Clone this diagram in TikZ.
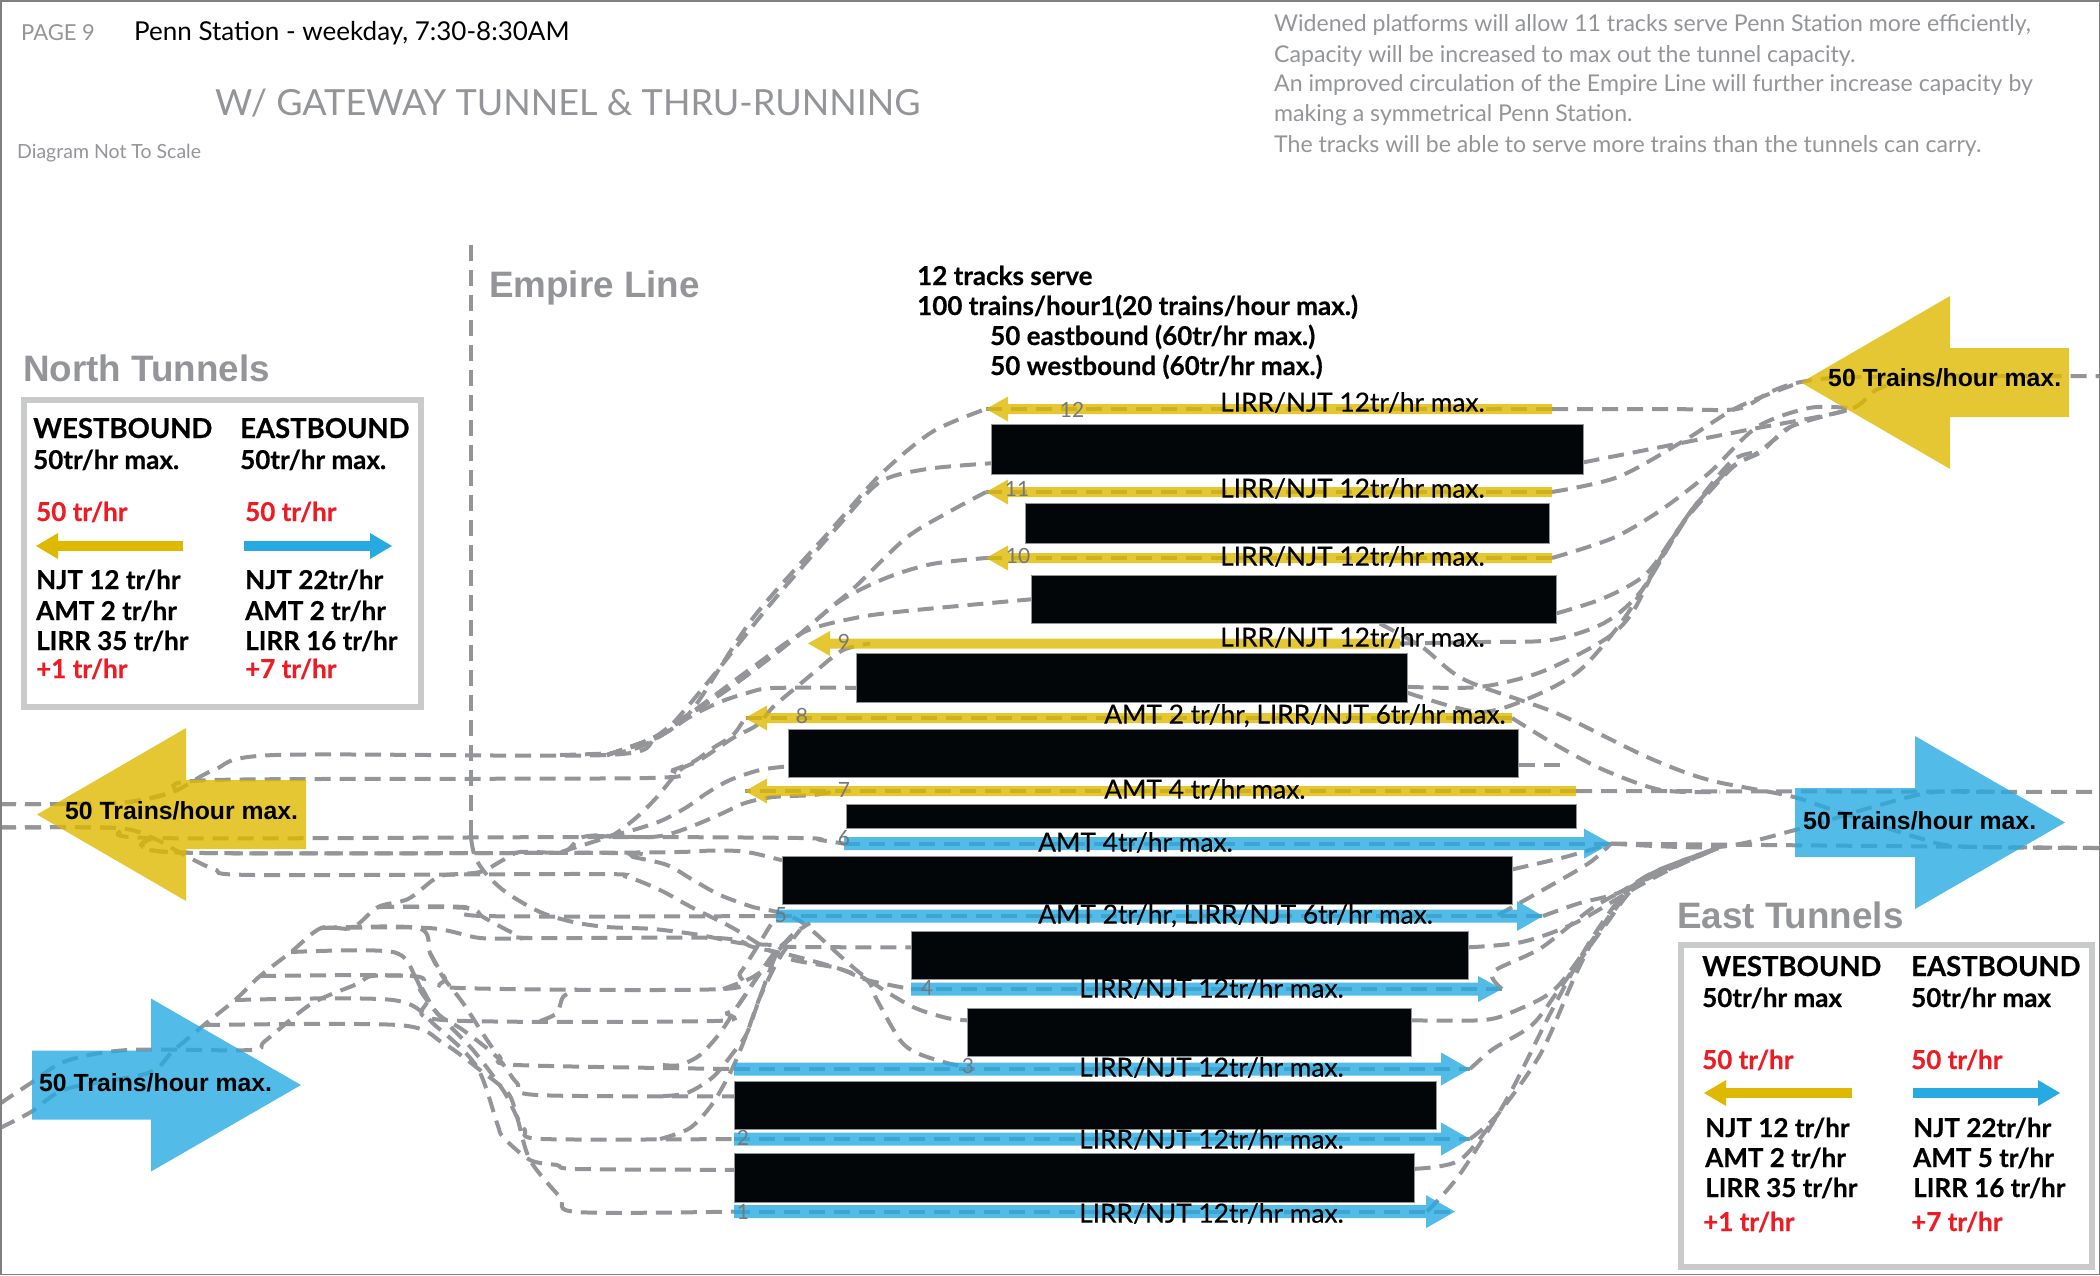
\documentclass[tikz,border=0pt]{standalone}
\usepackage{fontspec}
\usetikzlibrary{arrows.meta}
\setmainfont{Lato}
\newfontfamily\gillmed[FakeBold=0.4]{Lato}
\newfontfamily\gillb[FakeBold=0.5]{Lato Bold}
\newfontfamily\arialb{Liberation Sans Bold}
\definecolor{routegray}{HTML}{939598}
\definecolor{framegray}{HTML}{C9CACC}
\definecolor{keygold}{HTML}{DFB900}
\definecolor{keyblue}{HTML}{27AAE1}
\definecolor{keyred}{HTML}{ED1C24}
\definecolor{platblack}{HTML}{030608}
\newcommand{\sized}[1]{\fontsize{#1}{#1}\selectfont}
\pgfdeclarelayer{routes}
\pgfdeclarelayer{arrows}
\pgfsetlayers{routes,arrows,main}
\tikzset{
  route/.style={draw=routegray, line width=4pt, dash pattern=on 16pt off 9pt},
  plat/.style={rectangle, fill=platblack, draw=routegray, line width=0.6pt, inner sep=0, anchor=north west},
  keybox/.style={draw=framegray, line width=6pt},
  hdr/.style={inner sep=0, anchor=west, text height=1.5em, text depth=0pt},
  tracklabel/.style={hdr, text height=1.32em, font=\gillmed\sized{26.3}},
  keytext/.style={hdr, text height=1.6em, font=\gillb\sized{26}},
  keyhead/.style={hdr, text height=1.6em, font=\gillb\sized{27.5}},
  keyred/.style={keytext, text=keyred},
  tunnel/.style={hdr, text height=1.72em, font=\arialb\sized{36.8}, text=routegray},
  bigtext/.style={inner sep=0, anchor=west, font=\arialb\sized{24.8}},
  tracknum/.style={inner sep=0, font=\sized{21}, text=routegray!80!black},
  bigwest/.style={draw=keygold, line width=69pt, -{Triangle[width=173pt,length=149pt,line width=0pt]}},
  bigeast/.style={draw=keyblue, line width=69pt, -{Triangle[width=173pt,length=150pt,line width=0pt]}},
  keyarrow/.style={line width=10.5pt, -{Triangle[width=26pt,length=22pt,line width=0pt]}}
}
\begin{document}
\begin{tikzpicture}[x=1pt, y=-1pt]
  \useasboundingbox (0,0) rectangle (2100,1275);
  \draw[draw=gray, line width=1.5pt] (0.75,0.75) rectangle (2099.25,1274.25);

  % tunnel ends
  \coordinate (nea) at (2100,376);
  \coordinate (sea) at (2100,792);
  \coordinate (seb) at (2100,848);
  \coordinate (nwa) at (0,804);
  \coordinate (nwb) at (0,827.5);
  \coordinate (swa) at (0,1103.6);
  \coordinate (swb) at (0,1128);
  \coordinate (empiretop) at (471,245);

  % track ends
  \foreach \trk/\yy/\xw/\xe in {12/409/986/1552, 11/492/986/1552, 10/558/986/1552, 9/643.5/808/1400, 8/718/745/1512, 7/791/745/1576, 6/843.6/844/1611, 5/916/776/1543, 4/989/911/1502, 3/1069/734/1470, 2/1139/734/1470, 1/1211.6/734/1455} {
    \coordinate (t\trk w) at (\xw,\yy);
    \coordinate (t\trk e) at (\xe,\yy);
  }

  % platforms
  \node[plat, minimum width=592pt, minimum height=50pt] (p12) at (991,424) {};
  \node[plat, minimum width=524pt, minimum height=40pt] (p11) at (1025,503) {};
  \node[plat, minimum width=525pt, minimum height=48pt] (p10) at (1031,575) {};
  \node[plat, minimum width=551pt, minimum height=49pt] (p9) at (856,653) {};
  \node[plat, minimum width=730pt, minimum height=48pt] (p8) at (788,729) {};
  \node[plat, minimum width=730pt, minimum height=24pt] (p7) at (846,804) {};
  \node[plat, minimum width=730pt, minimum height=48pt] (p6) at (782,856) {};
  \node[plat, minimum width=557pt, minimum height=48pt] (p5) at (911,931) {};
  \node[plat, minimum width=444pt, minimum height=48pt] (p4) at (967,1008) {};
  \node[plat, minimum width=702pt, minimum height=48pt] (p3) at (734,1081) {};
  \node[plat, minimum width=680pt, minimum height=49pt] (p2) at (734,1153) {};

  \begin{pgfonlayer}{routes}
  % dashes along the tracks
  \foreach \trk in {12,11,10,8,7} {
    \draw[route] (t\trk e) -- (t\trk w);
  }
  \foreach \trk in {6,5,4,3,2,1} {
    \draw[route] (t\trk w) -- (t\trk e);
  }
  \draw[route] (empiretop) -- (471,838);

  % east side, westbound
  \draw[route] plot[smooth] coordinates {(t12e) (1670,409) (1737,409) (1770,392) (1801,382) (1860,377) (nea)};
  \draw[route] plot[smooth] coordinates {(t11e) (1618,477) (1685,440) (1738,407) (1801,382)};
  \draw[route] plot[smooth] coordinates {([yshift=-13pt]p12.east) (1661,447) (1747,430) (1848,410) (1876,390) (1915,378) (2000,376)};
  \draw[route] plot[smooth] coordinates {(t10e) (1613,538) (1661,510) (1709,473) (1757,427) (1809,408) (1848,408)};
  \draw[route] plot[smooth] coordinates {([yshift=-14pt]p10.east) (1604,598) (1647,573) (1685,520) (1733,467) (1761,452) (1790,427) (1848,410)};
  \draw[route] plot[smooth] coordinates {(t9e) (1484,642) (1551,640) (1604,623) (1642,590) (1685,520) (1728,470) (1757,453) (1790,427)};
  \draw[route] plot[smooth] coordinates {([yshift=-9pt]p9.east) (1479,687) (1541,672) (1604,640) (1632,613) (1661,557) (1694,507) (1728,470)};
  \draw[route] plot[smooth] coordinates {([yshift=-15pt]p9.east) (1479,712) (1532,697) (1580,670) (1623,620) (1656,567) (1694,507) (1733,460) (1761,452)};

  % east side, eastbound
  \draw[route] plot[smooth] coordinates {([xshift=86pt]p10.south) (1422,647) (1465,680) (1556,713) (1647,757) (1709,780) (1790,796) (1833,810) (1919,838) (1962,846.5) (seb)};
  \draw[route] plot[smooth] coordinates {(t8e) (1556,745) (1604,770) (1661,790) (1720,792)};
  \draw[route] (t7e) -- (sea);
  \draw[route] ([yshift=-12pt]p8.east) -- ++(47,0);
  \draw[route] (t6e) -- (seb);
  \draw[route] plot[smooth] coordinates {(t6e) (1718,847) (1795,830) (1876,806) (1934,792) (2000,792)};
  \draw[route] plot[smooth] coordinates {([yshift=11pt]p6.east) (1565,857) (t6e)};
  \draw[route] plot[smooth] coordinates {(1498,915) (1541,891) (1589,863) (t6e)};
  \draw[route] plot[smooth] coordinates {(t5e) (1580,903) (1618,893) (1656,871) (1718,848)};
  \draw[route] plot[smooth] coordinates {([yshift=8pt]p5.east) (1522,942) (1575,923) (1637,887) (1675,867) (1718,848)};
  \draw[route] plot[smooth] coordinates {(t4e) (1493,972) (1541,948) (1594,907) (1647,879) (1718,848)};
  \draw[route] plot[smooth] coordinates {([yshift=12pt]p4.east) (1484,1020) (1517,1010) (1556,988) (1599,931) (1637,883) (1675,865) (1718,848)};
  \draw[route] plot[smooth] coordinates {(t3e) (1493,1049) (1532,1025) (1560,988) (1604,927) (1642,881) (1718,848)};
  \draw[route] plot[smooth] coordinates {(t2e) (1498,1114) (1541,1053) (1575,976) (1599,931) (1642,879) (1718,848)};
  \draw[route] plot[smooth] coordinates {([yshift=9pt]p2.east) (1460,1160) (1498,1114)};
  \draw[route] plot[smooth] coordinates {([xshift=-28pt]t1e) (1460,1174) (1508,1097) (1551,1012) (1594,935) (1637,883) (1718,848)};

  % west side, upper tracks
  \draw[route] plot[smooth] coordinates {(nwa) (61,804) (128,802) (173,792) (214,770) (275,755) (607,755) (656,738) (692,710) (753,618) (830,531) (880,475) (932,432) (t12w)};
  \draw[route] plot[smooth] coordinates {(607,755) (656,738) (676,720) (717,671) (773,601) (840,524) (880,482) (927,469) ([yshift=-14pt]p12.west)};
  \draw[route] plot[smooth] coordinates {(607,755) (651,739) (676,724) (743,678) (794,639) (830,608) (855,587) (906,538) (947,513) (t11w)};
  \draw[route] plot[smooth] coordinates {(607,755) (651,739) (676,722) (727,690) (794,639) (840,601) (886,578) (932,564) (t10w)};
  \draw[route] plot[smooth] coordinates {(607,755) (651,739) (676,724) (753,667) (804,632) (855,618) (906,611) (p10.west)};
  \draw[route] plot[smooth] coordinates {(560,755) (613,753) (637,748) (657,738) (673,728) (693,715) (720,702) (747,693) (773,688) ([yshift=-10pt]p9.west)};
  \draw[route] plot[smooth] coordinates {(nwa) (61,804) (128,802) (173,792) (214,780) (648,778) (673,770) (693,762) (713,748) (733,735) (t8w)};
  \draw[route] plot[smooth] coordinates {(561,852) (612,836) (640,828) (663,820) (687,807) (707,793) (730,780) (760,770) ([yshift=-13pt]p8.west)};
  \draw[route] plot[smooth] coordinates {(597,836) (650,837) (673,833) (700,823) (723,813) (745,803) (773,797) (813,795) (835,791)};

  % west side, lower tracks
  \draw[route] plot[smooth] coordinates {(nwb) (117,828) (153,838) (597,837) (800,838) (820,840) (t6w)};
  \draw[route] plot[smooth] coordinates {(153,838) (179,852.5) (633,852.5) (714,850.5) (747,852) ([yshift=20pt]p6.west)};
  \draw[route] plot[smooth] coordinates {(153,838) (179,852.5) (610,853) (633,857) (667,865) (693,880) (720,895) (753,907) (777,912) (803,923) (847,962) (873,983) (913,1007) (947,1018) ([yshift=12pt]p4.west)};
  \draw[route] plot[smooth] coordinates {(nwb) (117,828) (153,838) (179,852) (214,869) (255,875) (593,874) (627,877) (660,890) (693,908) (733,928) (783,957) (837,968) (867,980) (t4w)};
  \draw[route] plot[smooth] coordinates {(471,838) (475,857) (487,875) (507,893) (540,912) (573,922) (607,927) (653,929) (700,935) (740,943) (773,945) (797,947) ([yshift=8pt]p5.west)};

  % south west fan
  \draw[route] plot[smooth] coordinates {(swb) (31,1112) (66,1089) (148,1073) (173,1051) (204,1025) (235,1000) (260,976) (291,952) (321,928) (352,928) (378,907) (408,899) (433,880) (445,875) (480,872) (503,860) (520,852) (563,852) (580,838) (600,835) (613,835) (637,817) (657,797) (680,770) (700,760) (733,738) (757,725) (773,707) (793,690) (817,670) (843,650) ([xshift=62pt]t9w)};
  \draw[route] plot[smooth] coordinates {(swa) (31,1083) (66,1061) (128,1050) (250,1050) (265,1041) (311,1004) (357,984) (372,976) (413,976)};
  \draw[route] plot[smooth] coordinates {(204,1025) (398,1025) (443,1043) (480,1070) (508,1093) (517,1117) (530,1160) (560,1197) (577,1212) (t1w)};
  \draw[route] plot[smooth] coordinates {(235,1000) (393,1000) (437,1027) (477,1067) (497,1123) (503,1137) (530,1160) (557,1165) (577,1169) ([yshift=8pt]p2.west)};
  \draw[route] plot[smooth] coordinates {(260,976) (413,976) (420,990) (437,1013) (473,1050) (503,1090) (517,1117) (525,1130) (543,1139) (t2w)};
  \draw[route] plot[smooth] coordinates {(291,952) (393,952) (417,980) (437,1013) (463,1030) (497,1057) (517,1083) (537,1095) ([yshift=9pt]p3.west)};
  \draw[route] plot[smooth] coordinates {(321,928) (418,928) (430,953) (443,977) (463,1003) (487,1040) (500,1057) (517,1065) (t3w)};
  \draw[route] plot[smooth] coordinates {(378,907) (464,907) (483,916) (t5w)};
  \draw[route] plot[smooth] coordinates {(378,907) (467,908) (483,917) (513,933) (530,938) (717,938) (753,947) (790,955) (837,968) (867,980) (877,1000) (900,1040) (917,1053) (947,1063) (968,1067)};
  \draw[route] plot[smooth] coordinates {(321,928) (429,928) (480,938) (530,938)};
  \draw[route] plot[smooth] coordinates {(430,953) (445,978) (460,988) (723,989) (740,973) (757,947) (t5w)};
  \draw[route] plot[smooth] coordinates {(723,989) (753,977) (770,963) (790,937) (810,923)};
  \draw[route] plot[smooth] coordinates {(417,980) (427,1000) (443,1020) (714,1021) (727,1013) (737,1007) (760,973) (777,950) (797,933)};
  \draw[route] plot[smooth] coordinates {(540,1021) (557,1013) (563,997) (577,989)};
  \draw[route] plot[smooth] coordinates {(663,1065) (680,1065) (700,1055) (720,1033) (737,1007) (760,973) (777,950) (800,930)};
  \draw[route] plot[smooth] coordinates {(663,1096) (687,1093) (713,1077) (733,1053) (747,1033) (760,997) (777,953) (793,937)};
  \draw[route] plot[smooth] coordinates {(660,1139) (690,1128) (713,1103) (733,1067) (747,1033) (760,997) (780,957) (800,930)};
  \end{pgfonlayer}

  % arrows lie over the dashes
  \begin{pgfonlayer}{arrows}
  \begin{scope}[transparency group, opacity=0.8]
    \draw[bigwest] (2069,382.5) coordinate (nebig) -- (1801,382.5);
    \draw[bigwest] (306,814.5) coordinate (nwbig) -- (37,814.5);
    \draw[bigeast] (32,1085) coordinate (swbig) -- (301,1085);
    \draw[bigeast] (1795,822.5) coordinate (sebig) -- (2065,822.5);
    \foreach \trk in {12,11,10,9,8,7} {
      \draw[draw=keygold, line width=10pt, -{Triangle[width=25pt,length=22pt,line width=0pt]}] (t\trk e) -- (t\trk w);
    }
    \foreach \trk/\hw/\hl in {6/30/27, 5/30/26, 4/26/24, 3/33/29, 2/33/29, 1/33/29} {
      \draw[draw=keyblue, line width=13pt, -{Triangle[width=\hw pt,length=\hl pt,line width=0pt]}] (t\trk w) -- (t\trk e);
    }
  \end{scope}
  \end{pgfonlayer}

  % track numbers
  \foreach \trk/\xx/\yy in {12/1072/410, 11/1017/489, 10/1018/556, 9/844/642, 8/802/716, 7/844/790, 6/844/838, 5/781/915, 4/927/988, 3/968/1066, 2/743/1138, 1/743/1212} {
    \node[tracknum] (num\trk) at (\xx,\yy) {\trk};
  }

  % track labels
  \node[tracklabel] (lab12) at (1220,405) {LIRR/NJT 12tr/hr max.};
  \node[tracklabel] (lab11) at (1220,491) {LIRR/NJT 12tr/hr max.};
  \node[tracklabel] (lab10) at (1220,559) {LIRR/NJT 12tr/hr max.};
  \node[tracklabel] (lab9) at (1220,640) {LIRR/NJT 12tr/hr max.};
  \node[tracklabel] (lab8) at (1104,717) {AMT 2 tr/hr, LIRR/NJT 6tr/hr max.};
  \node[tracklabel] (lab7) at (1104,792) {AMT 4 tr/hr max.};
  \node[tracklabel] (lab6) at (1038,845) {AMT 4tr/hr max.};
  \node[tracklabel] (lab5) at (1038,917) {AMT 2tr/hr, LIRR/NJT 6tr/hr max.};
  \node[tracklabel] (lab4) at (1079,991) {LIRR/NJT 12tr/hr max.};
  \node[tracklabel] (lab3) at (1079,1070) {LIRR/NJT 12tr/hr max.};
  \node[tracklabel] (lab2) at (1079,1142) {LIRR/NJT 12tr/hr max.};
  \node[tracklabel] (lab1) at (1079,1216) {LIRR/NJT 12tr/hr max.};

  % big arrow labels
  \node[bigtext] (nelab) at (1828,378) {50 Trains/hour max.};
  \node[bigtext] (nwlab) at (65,811) {50 Trains/hour max.};
  \node[bigtext] (swlab) at (39,1083) {50 Trains/hour max.};
  \node[bigtext] (selab) at (1803,821) {50 Trains/hour max.};

  % header
  \node[hdr, font=\sized{22}, text=routegray] (page) at (21,33) {PAGE 9};
  \node[hdr, font=\sized{26}] (station) at (134,33) {Penn Station - weekday, 7:30-8:30AM};
  \node[hdr, text height=1.72em, font=\sized{36}, text=routegray] (title) at (215,107) {W/ GATEWAY TUNNEL \& THRU-RUNNING};
  \node[hdr, font=\sized{19.5}, text=routegray] (scale) at (17,151) {Diagram Not To Scale};
  \node[hdr, font=\sized{23.1}, text=routegray] (note1) at (1274,24) {Widened platforms will allow 11 tracks serve Penn Station more efficiently,};
  \node[hdr, font=\sized{23.1}, text=routegray] (note2) at (1274,55) {Capacity will be increased to max out the tunnel capacity.};
  \node[hdr, font=\sized{23.1}, text=routegray] (note3) at (1274,84) {An improved circulation of the Empire Line will further increase capacity by};
  \node[hdr, font=\sized{23.1}, text=routegray] (note4) at (1274,114) {making a symmetrical Penn Station.};
  \node[hdr, font=\sized{23.1}, text=routegray] (note5) at (1274,145) {The tracks will be able to serve more trains than the tunnels can carry.};

  \node[tunnel] (empire) at (489,289) {Empire Line};
  \node[tunnel] (north) at (23,373) {North Tunnels};
  \node[tunnel] (east) at (1677,920) {East Tunnels};

  % capacity text
  \node[keytext] (cap1) at (917,277) {12 tracks serve};
  \node[keytext] (cap2) at (917,307) {100 trains/hour1(20 trains/hour max.)};
  \node[keytext] (cap3) at (990,337) {50 eastbound (60tr/hr max.)};
  \node[keytext] (cap4) at (990,367) {50 westbound (60tr/hr max.)};

  % north key
  \draw[keybox] (24,400) rectangle (421,707);
  \node[keyhead] (nwest) at (33,430) {WESTBOUND};
  \node[keyhead] (neast) at (240,430) {EASTBOUND};
  \node[keytext] (nwmax) at (33,461) {50tr/hr max.};
  \node[keytext] (nemax) at (240,461) {50tr/hr max.};
  \node[keyred] (nwrate) at (36,513) {50 tr/hr};
  \node[keyred] (nerate) at (245,513) {50 tr/hr};
  \coordinate (nwkeyr) at (183,546);
  \coordinate (nwkeyl) at (36,546);
  \coordinate (nekeyl) at (244,546);
  \coordinate (nekeyr) at (392,546);
  \draw[keyarrow, draw=keygold] (nwkeyr) -- (nwkeyl);
  \draw[keyarrow, draw=keyblue] (nekeyl) -- (nekeyr);
  \node[keytext] (nwnjt) at (36,581) {NJT 12 tr/hr};
  \node[keytext] (nwamt) at (36,612) {AMT 2 tr/hr};
  \node[keytext] (nwlirr) at (36,642) {LIRR 35 tr/hr};
  \node[keyred] (nwplus) at (36,670) {+1 tr/hr};
  \node[keytext] (nenjt) at (245,581) {NJT 22tr/hr};
  \node[keytext] (neamt) at (245,612) {AMT 2 tr/hr};
  \node[keytext] (nelirr) at (245,642) {LIRR 16 tr/hr};
  \node[keyred] (neplus) at (245,670) {+7 tr/hr};

  % east key
  \draw[keybox] (1681,945) rectangle (2092,1267);
  \node[keyhead] (ewest) at (1702,968) {WESTBOUND};
  \node[keyhead] (eeast) at (1911,968) {EASTBOUND};
  \node[keytext] (ewmax) at (1702,999) {50tr/hr max};
  \node[keytext] (eemax) at (1911,999) {50tr/hr max};
  \node[keyred] (ewrate) at (1702,1061) {50 tr/hr};
  \node[keyred] (eerate) at (1911,1061) {50 tr/hr};
  \coordinate (ewkeyr) at (1852,1093);
  \coordinate (ewkeyl) at (1704,1093);
  \coordinate (eekeyl) at (1913,1093);
  \coordinate (eekeyr) at (2060,1093);
  \draw[keyarrow, draw=keygold] (ewkeyr) -- (ewkeyl);
  \draw[keyarrow, draw=keyblue] (eekeyl) -- (eekeyr);
  \node[keytext] (ewnjt) at (1705,1129) {NJT 12 tr/hr};
  \node[keytext] (ewamt) at (1705,1159) {AMT 2 tr/hr};
  \node[keytext] (ewlirr) at (1705,1189) {LIRR 35 tr/hr};
  \node[keyred] (ewplus) at (1703,1223) {+1 tr/hr};
  \node[keytext] (eenjt) at (1913,1129) {NJT 22tr/hr};
  \node[keytext] (eeamt) at (1913,1159) {AMT 5 tr/hr};
  \node[keytext] (eelirr) at (1913,1189) {LIRR 16 tr/hr};
  \node[keyred] (eeplus) at (1911,1223) {+7 tr/hr};
\end{tikzpicture}
\end{document}
